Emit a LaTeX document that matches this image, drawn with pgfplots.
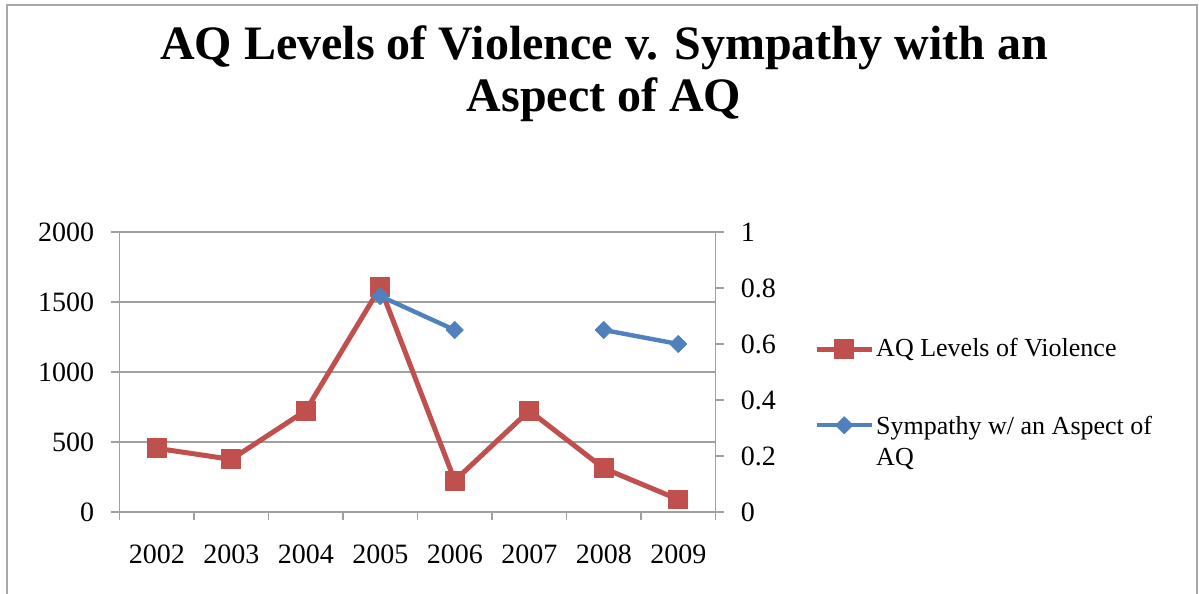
\documentclass[border=0pt]{standalone}
\usepackage{pgfplots}
\pgfplotsset{compat=1.18}
\usepackage{fontspec}
\setmainfont{Liberation Serif}
\definecolor{aqred}{HTML}{C0504D}
\definecolor{aqblue}{HTML}{4F81BD}
\definecolor{gridgray}{HTML}{A0A0A0}
\definecolor{framegray}{HTML}{A8A8A8}
\pgfplotsset{
  common/.style={
    at={(59.75pt,41pt)}, anchor=south west,
    scale only axis, width=298pt, height=140pt,
    xmin=-0.5, xmax=7.5,
    ticklabel style={font=\fontsize{14}{16.8}\selectfont},
    /pgf/number format/assume math mode=true,
    /pgf/number format/1000 sep={},
    tick align=outside,
    axis line style={gridgray, line width=0.7pt},
    tick style={gridgray, line width=0.7pt},
    major tick length=4.2pt,
  },
  redstyle/.style={aqred, line width=2.5pt, line join=round, mark=square*, mark size=4.7pt, mark options={solid, line width=0.5pt}},
  bluestyle/.style={aqblue, line width=2.2pt, line join=round, mark=square*, mark size=3pt, mark options={solid, rotate=45, line width=0.5pt}},
}
\begin{document}
\begin{tikzpicture}
\useasboundingbox (0,0) rectangle (599.5pt,297pt);
\draw[framegray, line width=1pt] (3.25pt,0pt) -- (3.25pt,294.5pt) -- (598.25pt,294.5pt) -- (598.25pt,0pt);
\node[font=\fontsize{24}{29}\selectfont\bfseries, anchor=base, inner sep=0pt] at (302pt,267pt) {AQ Levels of Violence v. Sympathy with an};
\node[font=\fontsize{24}{29}\selectfont\bfseries, anchor=base, inner sep=0pt] at (302pt,241pt) {Aspect of AQ};

\begin{axis}[common,
  ymin=0, ymax=2000, ytick={0,500,1000,1500,2000},
  ytick pos=left, xtick pos=bottom,
  xtick={-0.5,0.5,...,7.5},
  x tick label as interval,
  xticklabels={2002,2003,2004,2005,2006,2007,2008,2009},
  xticklabel style={yshift=-8.5pt},
  yticklabel style={xshift=-5pt},
  ymajorgrids, grid style={gridgray, line width=0.7pt},
]
\addplot[redstyle] coordinates {(0,455) (1,376) (2,724) (3,1605) (4,224) (5,724) (6,312) (7,90)};
\end{axis}

\begin{axis}[common,
  ymin=0, ymax=1, ytick={0,0.2,0.4,0.6,0.8,1},
  axis y line*=right, axis x line=none,
  yticklabel style={xshift=5pt, /pgf/number format/.cd, fixed, precision=1},
  unbounded coords=jump,
  legend style={at={(1.165,0.628)}, anchor=north west, draw=none, fill=none,
    font=\fontsize{13}{15.6}\selectfont, inner sep=0pt, row sep=24.5pt,
    nodes={inner sep=1pt}},
  legend cell align=left,
  legend image code/.code={\draw[mark repeat=2,mark phase=2,#1] plot coordinates {(0pt,0pt)(13.75pt,0pt)(27.5pt,0pt)};},
]
\addlegendimage{redstyle}
\addlegendentry{AQ Levels of Violence}
\addplot[bluestyle] coordinates {(3,0.771) (4,0.65) (5,nan) (6,0.65) (7,0.6)};
\addlegendentry{\begin{tabular}[t]{@{}l@{}}Sympathy w/ an Aspect of\\AQ\end{tabular}}
\end{axis}
\end{tikzpicture}
\end{document}
